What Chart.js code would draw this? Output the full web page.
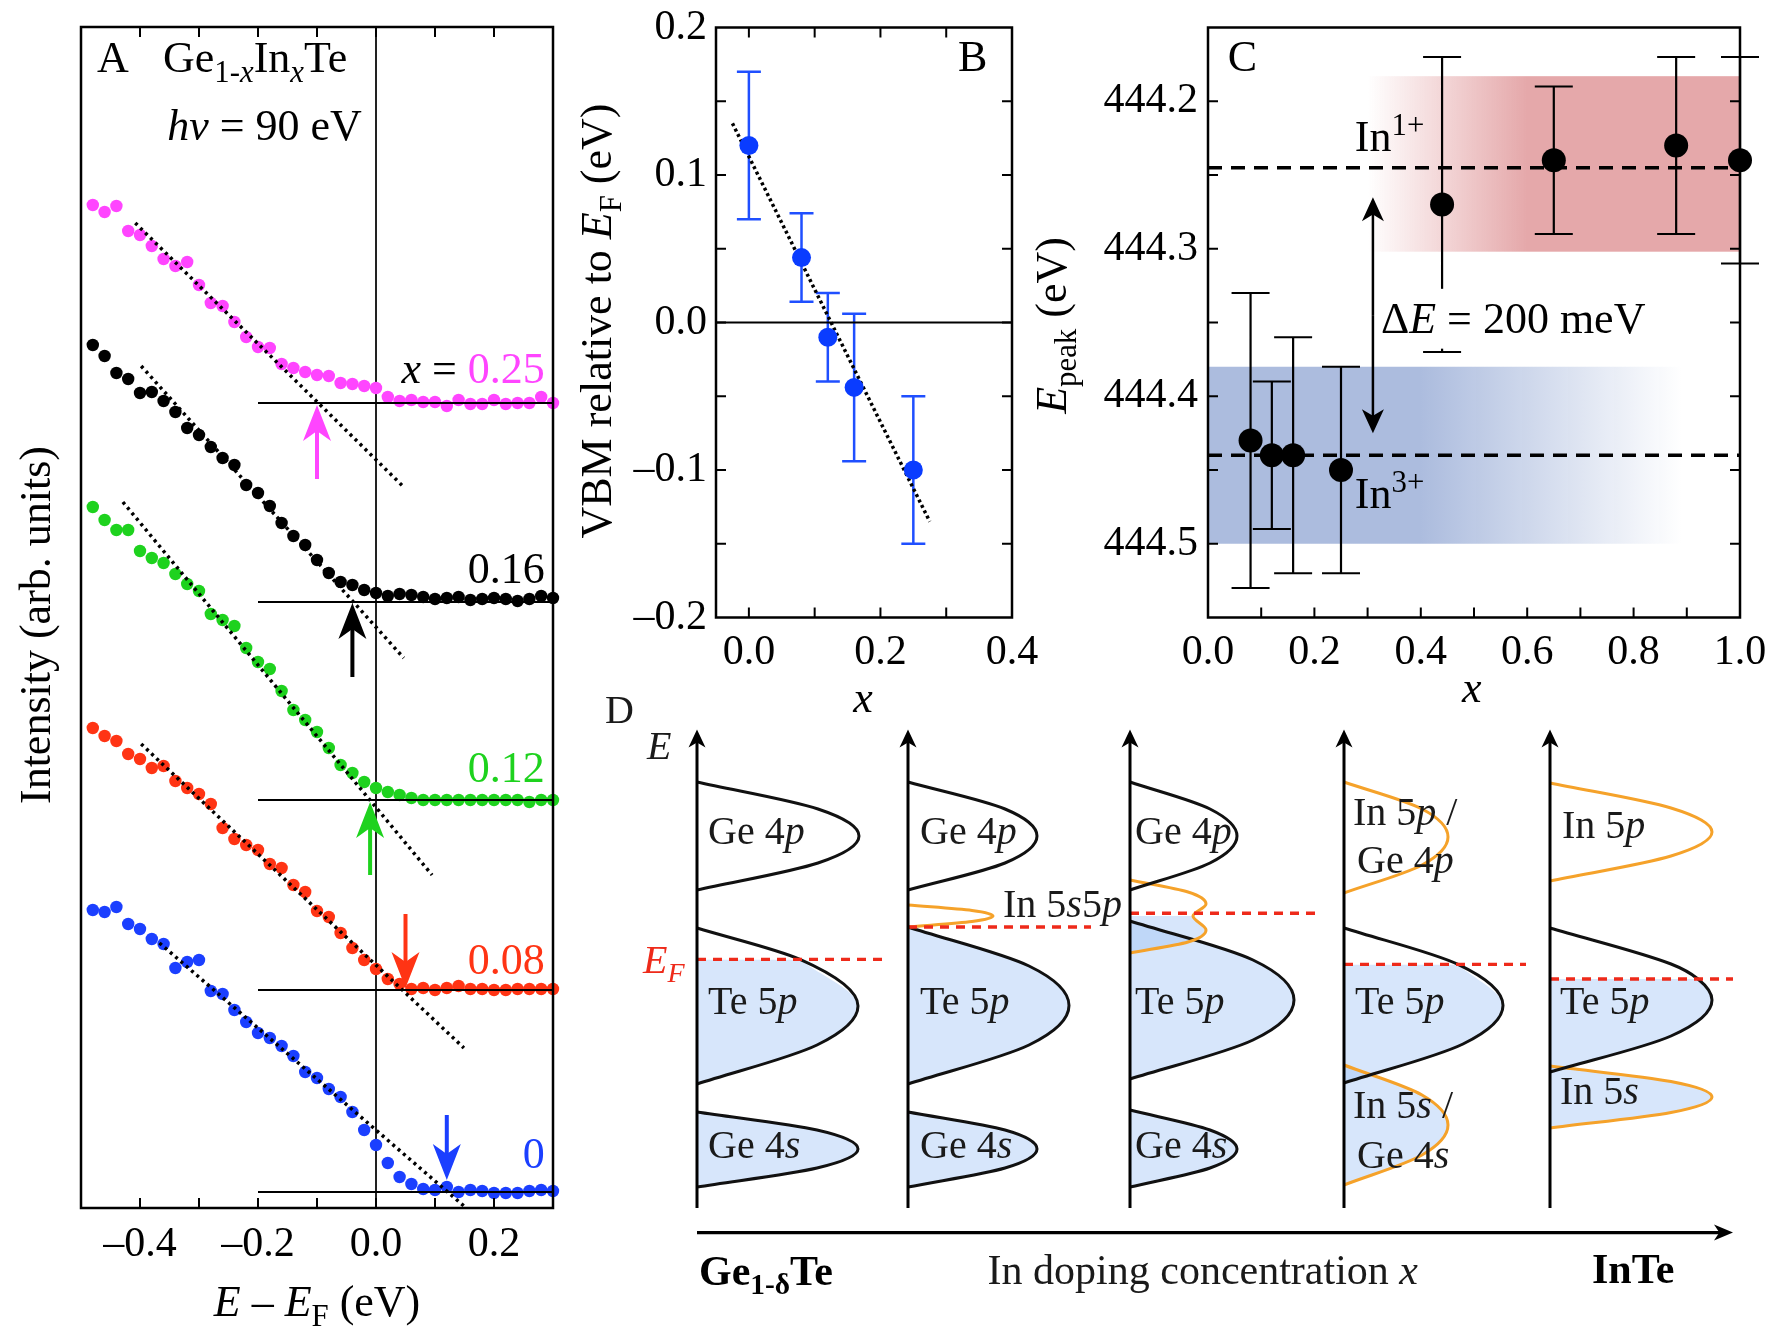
<!DOCTYPE html>
<html>
<head>
<meta charset="utf-8">
<title>Ge1-xInxTe</title>
<script src="https://cdn.jsdelivr.net/npm/chart.js@4.4.1/dist/chart.umd.min.js"></script>
<style>
  html, body { margin:0; padding:0; background:#fff; }
  #wrap { position:relative; width:1767px; height:1342px; overflow:hidden; }
  canvas { position:absolute; }
  .warm { position:absolute; left:-9999px; top:0; font-family:"Liberation Serif"; font-size:20px; }
</style>
</head>
<body>
<div id="wrap">
  <canvas id="chartA" width="600" height="1342" style="left:0;top:0"></canvas>
  <canvas id="chartB" width="500" height="760" style="left:560px;top:0"></canvas>
  <canvas id="chartC" width="767" height="760" style="left:1000px;top:0"></canvas>
  <canvas id="chartD" width="1187" height="662" style="left:580px;top:680px"></canvas>
</div>
<span class="warm">x</span><span class="warm" style="font-style:italic">x</span><span class="warm" style="font-weight:bold">x</span>
<script>
// ---- Panel A : spectra near E_F (intensity, arb. units, offset) ----
const energyA = [-0.48,-0.46,-0.44,-0.42,-0.40,-0.38,-0.36,-0.34,-0.32,-0.30,-0.28,-0.26,-0.24,-0.22,-0.20,-0.18,-0.16,-0.14,-0.12,-0.10,
                 -0.08,-0.06,-0.04,-0.02,0.00,0.02,0.04,0.06,0.08,0.10,0.12,0.14,0.16,0.18,0.20,0.22,0.24,0.26,0.28,0.30];
const intX025 = [100.3,99.6,100.2,97.7,97.3,96.2,94.9,94.2,94.6,92.3,90.5,90.2,88.6,87.1,86.1,86.0,84.4,84.0,83.6,83.3,
                 83.2,82.5,82.4,82.2,82.0,81.1,80.7,80.8,80.6,80.6,80.2,80.8,80.4,80.4,80.8,80.4,80.5,80.5,81.1,80.5];
const intX016 = [86.3,85.2,83.5,82.9,81.5,81.6,80.7,79.6,78.0,77.3,76.1,75.0,74.3,72.3,71.5,70.2,68.5,67.2,66.3,64.8,
                 63.5,62.6,62.3,61.8,61.5,61.2,61.4,61.3,61.1,60.9,61.0,61.1,60.8,60.9,61.0,60.9,60.7,60.9,61.2,61.0];
const intX012 = [70.1,68.8,67.8,67.8,65.7,65.0,64.5,63.4,62.4,61.7,59.4,58.8,58.2,56.0,54.6,53.9,51.7,49.8,48.8,47.6,
                 46.0,44.3,43.5,42.6,42.0,41.6,41.3,41.0,40.8,40.8,40.8,40.8,40.8,40.8,40.8,40.8,40.8,40.6,40.8,40.8];
const intX008 = [48.0,47.2,46.7,45.4,44.9,44.0,44.2,42.7,42.0,41.4,40.4,38.0,36.9,36.3,35.8,34.4,34.0,32.3,31.6,29.7,
                 29.1,27.5,26.0,24.8,23.9,22.9,22.4,21.9,22.0,21.8,22.0,22.2,21.9,21.9,21.8,21.8,21.9,21.9,21.9,21.9];
const intX000 = [29.8,29.6,30.1,28.4,27.9,26.9,26.4,24.0,24.6,24.8,21.7,21.4,19.8,18.6,17.5,17.0,16.2,15.2,13.6,13.0,
                 11.9,11.1,9.6,7.8,6.3,4.5,3.1,2.4,1.9,1.8,2.1,1.6,1.8,1.7,1.5,1.5,1.5,1.7,1.8,1.7];
const labelsA  = ['0.25','0.16','0.12','0.08','0'];
const colorsA  = ['#ff45ff','#000000','#1ed21e','#ff3414','#1b3fff'];
const baseY    = [80.5, 60.6, 40.8, 21.8, 1.6];       // horizontal background lines, from -0.2 to 0.3
const fitX0 = [-0.408,-0.398,-0.429,-0.398,-0.367], fitY0 = [98.5,84.2,70.6,46.4,26.5];
const fitX1 = [0.047,0.047,0.095,0.149,0.149],     fitY1 = [72.1,55.0,33.3,16.0,0.2];
const arrowX = [-0.10,-0.04,-0.01,0.05,0.12], arrowTail = [72.9,53.1,33.3,29.4,9.3], arrowTip = [80.3,60.5,40.6,22.0,2.8];
const labelY = [82.5, 62.5, 42.6, 23.4, 4.0];
const ticksA = [-0.4,-0.3,-0.2,-0.1,0,0.1,0.2];

// ---- Panel B : VBM vs x ----
const xB   = [0, 0.08, 0.12, 0.16, 0.25];
const vbmB = [0.12, 0.044, -0.01, -0.044, -0.10];
const errB = [0.05, 0.03, 0.03, 0.05, 0.05];
const fitB = [[-0.025, 0.135], [0.275, -0.135]];

// ---- Panel C : In 3d peak energy vs x ----
const xC    = [0.08, 0.12, 0.16, 0.25, 0.44, 0.65, 0.88, 1.0];
const peakC = [444.43, 444.44, 444.44, 444.45, 444.27, 444.24, 444.23, 444.24];
const errC  = [0.10, 0.05, 0.08, 0.07, 0.10, 0.05, 0.06, 0.07];
const levelIn1 = 444.245, levelIn3 = 444.44;
const bandRedX = [0.3, 0.6, 1.0],   bandRedY = [444.183, 444.302];
const bandBlueX = [0.0, 0.4, 0.89], bandBlueY = [444.38, 444.50];
const deltaArrowX = 0.31, deltaArrowY = [444.265, 444.425];

// ---- Panel D : schematic DOS lobes [dos, energy] ----
const colAxis = [57, 268, 490, 704, 910];
const axisBottom = 92, axisTop = 570.5, dopingY = 67.4, dopingEnd = 1093;
const efLevel = [340.6, 373, 386.7, 335.6, 321];
const efEnd   = [242, 451, 675, 886, 1093];
const ge4p_1 = [[57,410],[178,437],[219,464],[178,491],[57,518]];
const te5p_1 = [[57,216],[177,255],[218,294],[160,340.6],[57,372]];
const ge4s_1 = [[57,113],[177,132],[218,151],[177,170],[57,188]];
const ge4p_2 = [[268,410],[365,437],[397,464],[365,491],[268,518]];
const in5s5p_2 = [[268,373],[332,378.5],[353,384],[332,389.5],[268,395]];
const te5p_2 = [[268,216],[389,255],[429,294.5],[389,334],[268,373]];
const ge4s_2 = [[268,113],[365,132],[397,151],[365,170],[268,188]];
const ge4p_3 = [[490,410],[570,437],[597,464],[570,491],[490,518]];
const in5s5p_3 = [[490,347],[548,358],[566,370],[553,384],[566,396],[548,408],[490,420]];
const te5p_3 = [[490,221],[613,260],[654,300],[613,340],[490,379]];
const ge4s_3 = [[490,113],[570,132],[597,151],[570,170],[490,190]];
const in5p_4 = [[704,407],[782,435],[808,463],[782,491],[704,518]];
const te5p_4 = [[704,217],[823,256],[863,294.5],[818,335.6],[704,372]];
const in5s_4 = [[704,115],[782,145],[808,175],[782,205],[704,235]];
const in5p_5 = [[910,419],[1031,444],[1072,468],[1031,492],[910,517]];
const te5p_5 = [[910,228],[1031,264],[1072,300],[1058,321],[1031,336],[910,372]];
const in5s_5 = [[910,172],[1031,187.5],[1072,203],[1031,218.5],[910,234]];

const SERIF = '"Liberation Serif","Tinos","Times New Roman","DejaVu Serif",serif';
Chart.defaults.font.family = SERIF;
Chart.defaults.color = '#000';
const TICK = 10;

// rich text: parts = [{t, i, b, sub, sup, c}]
function fontStr(p, size){ const s = Math.round(((p.sub||p.sup) ? size*0.7 : size)*10)/10; return (p.i?'italic ':'')+(p.b?'bold ':'')+s+'px '+SERIF; }
function richText(ctx, parts, x, y, o){
  const size = o.size || 44;
  ctx.save();
  ctx.textAlign = 'left'; ctx.textBaseline = 'alphabetic';
  let w = 0;
  const ws = parts.map(p => { ctx.font = fontStr(p, size); const m = ctx.measureText(p.t).width; w += m; return m; });
  ctx.translate(x, y);
  if (o.rotate) ctx.rotate(o.rotate);
  let cx = o.align==='center' ? -w/2 : o.align==='right' ? -w : 0;
  if (o.bg){ ctx.fillStyle = o.bg; ctx.fillRect(cx-4, -size*1.0, w+8, size*1.36); }
  parts.forEach((p,k)=>{
    ctx.font = fontStr(p, size);
    ctx.fillStyle = p.c || o.color || '#000';
    ctx.fillText(p.t, cx, p.sub ? size*0.22 : p.sup ? -size*0.38 : 0);
    cx += ws[k];
  });
  ctx.restore();
}
function arrow(ctx, x0, y0, x1, y1, color, lw, hl, hw){
  const ang = Math.atan2(y1-y0, x1-x0);
  ctx.save(); ctx.strokeStyle = color; ctx.fillStyle = color; ctx.lineWidth = lw;
  ctx.beginPath(); ctx.moveTo(x0,y0); ctx.lineTo(x1-Math.cos(ang)*hl*0.6, y1-Math.sin(ang)*hl*0.6); ctx.stroke();
  ctx.translate(x1,y1); ctx.rotate(ang);
  ctx.beginPath(); ctx.moveTo(0,0); ctx.lineTo(-hl, hw/2); ctx.lineTo(-hl*0.72, 0); ctx.lineTo(-hl, -hw/2); ctx.closePath(); ctx.fill();
  ctx.restore();
}
const fmt = v => (v < -1e-9 ? '\u2013' : '') + Math.abs(v).toFixed(1);
const every = step => v => Math.abs(v/step - Math.round(v/step)) < 1e-6 ? fmt(v) : '';

function framePlugin(t){
  return { id:'frame', afterDraw(chart){
    const {ctx, chartArea:a, scales:{x,y}} = chart;
    ctx.save(); ctx.strokeStyle = '#000'; ctx.lineWidth = 2.5;
    ctx.strokeRect(a.left, a.top, a.right-a.left, a.bottom-a.top);
    ctx.lineWidth = 2; ctx.beginPath();
    (t.bottom||[]).forEach(v=>{ const p=x.getPixelForValue(v); ctx.moveTo(p,a.bottom); ctx.lineTo(p,a.bottom-TICK); });
    (t.top||[]).forEach(v=>{ const p=x.getPixelForValue(v); ctx.moveTo(p,a.top); ctx.lineTo(p,a.top+TICK); });
    (t.left||[]).forEach(v=>{ const p=y.getPixelForValue(v); ctx.moveTo(a.left,p); ctx.lineTo(a.left+TICK,p); });
    (t.right||[]).forEach(v=>{ const p=y.getPixelForValue(v); ctx.moveTo(a.right,p); ctx.lineTo(a.right-TICK,p); });
    ctx.stroke(); ctx.restore();
  }};
}
function xAxis(min, max, step, label, height, pad){
  return { type:'linear', min, max, grid:{display:false, drawTicks:false}, border:{display:false},
    ticks:{stepSize:step, autoSkip:false, maxRotation:0, padding:pad, font:{size:42}, callback:label},
    afterFit: s => { s.height = height; s.paddingLeft = 0; s.paddingRight = 0; } };
}
function yAxis(min, max, step, label, width, pad, reverse){
  return { type:'linear', min, max, reverse:!!reverse, grid:{display:false, drawTicks:false}, border:{display:false},
    ticks:{stepSize:step, autoSkip:false, padding:pad, font:{size:42}, callback:label},
    afterFit: s => { s.width = width; s.paddingTop = 0; s.paddingBottom = 0; } };
}
const common = { responsive:false, animation:false, devicePixelRatio:1,
  plugins:{ legend:{display:false}, tooltip:{enabled:false} } };

function errorBars(xs, ys, es, color, lw, cap){
  return { id:'err', beforeDatasetsDraw(chart){
    const {ctx, scales:{x,y}} = chart;
    ctx.save(); ctx.strokeStyle = color; ctx.lineWidth = lw; ctx.beginPath();
    xs.forEach((v,i)=>{
      const px = x.getPixelForValue(v), t = y.getPixelForValue(ys[i]+es[i]), b = y.getPixelForValue(ys[i]-es[i]);
      ctx.moveTo(px,t); ctx.lineTo(px,b);
      ctx.moveTo(px-cap,t); ctx.lineTo(px+cap,t); ctx.moveTo(px-cap,b); ctx.lineTo(px+cap,b);
    });
    ctx.stroke(); ctx.restore();
  }};
}

function drawAll(){
  // ================= Panel A =================
  const seriesA = [intX025, intX016, intX012, intX008, intX000];
  const dsA = [];
  seriesA.forEach((s,i)=>{
    dsA.push({ type:'scatter', data: energyA.map((e,k)=>({x:e, y:s[k]})), pointRadius:6.2,
      pointBackgroundColor:colorsA[i], pointBorderWidth:0, showLine:false, clip:false, order:2 });
    dsA.push({ type:'line', data:[{x:-0.2,y:baseY[i]},{x:0.3,y:baseY[i]}], borderColor:'#000', borderWidth:2.2, pointRadius:0, order:1 });
    dsA.push({ type:'line', data:[{x:fitX0[i],y:fitY0[i]},{x:fitX1[i],y:fitY1[i]}], borderColor:'#000', borderWidth:3.5,
      borderDash:[3,4], pointRadius:0, order:0 });
  });
  const annA = { id:'annA',
    beforeDatasetsDraw(chart){
      const {ctx, chartArea:a, scales:{x}} = chart; const p = x.getPixelForValue(0);
      ctx.save(); ctx.strokeStyle = '#222'; ctx.lineWidth = 2;
      ctx.beginPath(); ctx.moveTo(p,a.top); ctx.lineTo(p,a.bottom); ctx.stroke(); ctx.restore();
    },
    afterDatasetsDraw(chart){
      const {ctx, scales:{x,y}} = chart;
      arrowX.forEach((ax,i)=> arrow(ctx, x.getPixelForValue(ax), y.getPixelForValue(arrowTail[i]),
        x.getPixelForValue(ax), y.getPixelForValue(arrowTip[i]), colorsA[i], 4, 36, 28));
      labelsA.forEach((l,i)=>{
        const parts = i===0 ? [{t:'x',i:true},{t:' = '},{t:l,c:colorsA[0]}] : [{t:l,c:colorsA[i]}];
        richText(ctx, parts, x.getPixelForValue(0.286), y.getPixelForValue(labelY[i]), {align:'right'});
      });
      richText(ctx, [{t:'A'}], x.getPixelForValue(-0.473), y.getPixelForValue(113.6), {});
      richText(ctx, [{t:'Ge'},{t:'1-',sub:true},{t:'x',i:true,sub:true},{t:'In'},{t:'x',i:true,sub:true},{t:'Te'}],
        x.getPixelForValue(-0.361), y.getPixelForValue(113.6), {});
      richText(ctx, [{t:'h\u03BD',i:true},{t:' = 90 eV'}], x.getPixelForValue(-0.024), y.getPixelForValue(106.8), {align:'right'});
      richText(ctx, [{t:'E',i:true},{t:' \u2013 '},{t:'E',i:true},{t:'F',sub:true},{t:' (eV)'}],
        x.getPixelForValue(-0.1), y.getPixelForValue(-10.8), {align:'center'});
      richText(ctx, [{t:'Intensity (arb. units)'}], x.getPixelForValue(-0.5525), y.getPixelForValue(58.3), {align:'center', rotate:-Math.PI/2});
    }
  };
  new Chart(document.getElementById('chartA'), {
    type:'scatter', data:{datasets:dsA},
    options:{ ...common, layout:{padding:{left:81, top:27, right:47, bottom:0}},
      scales:{ x:xAxis(-0.5, 0.3, 0.1, every(0.2), 134, 12), y:{type:'linear', min:0, max:118.1, display:false} } },
    plugins:[annA, framePlugin({top:ticksA, bottom:ticksA})]
  });

  // ================= Panel B =================
  const annB = { id:'annB',
    beforeDatasetsDraw(chart){
      const {ctx, chartArea:a, scales:{y}} = chart; const p = y.getPixelForValue(0);
      ctx.save(); ctx.strokeStyle = '#000'; ctx.lineWidth = 2;
      ctx.beginPath(); ctx.moveTo(a.left,p); ctx.lineTo(a.right,p); ctx.stroke(); ctx.restore();
    },
    afterDraw(chart){
      const {ctx, scales:{x,y}} = chart;
      richText(ctx, [{t:'B'}], x.getPixelForValue(0.318), y.getPixelForValue(0.1705), {});
      richText(ctx, [{t:'x',i:true}], x.getPixelForValue(0.1735), y.getPixelForValue(-0.264), {align:'center'});
      richText(ctx, [{t:'VBM relative to '},{t:'E',i:true},{t:'F',sub:true},{t:' (eV)'}],
        x.getPixelForValue(-0.2096), y.getPixelForValue(0.001), {align:'center', rotate:-Math.PI/2});
    }
  };
  new Chart(document.getElementById('chartB'), {
    type:'scatter',
    data:{ datasets:[
      { data: xB.map((v,i)=>({x:v, y:vbmB[i]})), pointRadius:9.5, pointBackgroundColor:'#0a3cff', pointBorderWidth:0, clip:false, order:0 },
      { type:'line', data: fitB.map(p=>({x:p[0], y:p[1]})), borderColor:'#000', borderWidth:3.5, borderDash:[3,3], pointRadius:0, order:1 }
    ]},
    options:{ ...common, layout:{padding:{left:0, top:27.5, right:48, bottom:0}},
      scales:{ x:xAxis(-0.05, 0.4, 0.05, every(0.2), 142.5, 10), y:yAxis(-0.2, 0.2, 0.05, every(0.1), 156, 9) } },
    plugins:[errorBars(xB, vbmB, errB, '#1f4fff', 2.5, 12), annB,
      framePlugin({top:[0,0.1,0.2,0.3], bottom:[0,0.1,0.2,0.3], left:[-0.15,-0.1,-0.05,0,0.05,0.1,0.15], right:[-0.15,-0.1,-0.05,0,0.05,0.1,0.15]})]
  });

  // ================= Panel C =================
  const bandsC = { id:'bands', beforeDatasetsDraw(chart){
    const {ctx, scales:{x,y}} = chart;
    const band = (bx, by, rgb, fadeIn) => {
      const x0 = x.getPixelForValue(bx[0]), x2 = x.getPixelForValue(bx[2]);
      const g = ctx.createLinearGradient(x0, 0, x2, 0), f = (bx[1]-bx[0])/(bx[2]-bx[0]);
      if (fadeIn){ g.addColorStop(0,'rgba('+rgb+',0)'); g.addColorStop(f,'rgba('+rgb+',1)'); g.addColorStop(1,'rgba('+rgb+',1)'); }
      else { g.addColorStop(0,'rgba('+rgb+',1)'); g.addColorStop(f,'rgba('+rgb+',1)'); g.addColorStop(1,'rgba('+rgb+',0)'); }
      const y0 = y.getPixelForValue(by[0]), y1 = y.getPixelForValue(by[1]);
      ctx.save(); ctx.fillStyle = g; ctx.fillRect(x0, Math.min(y0,y1), x2-x0, Math.abs(y1-y0)); ctx.restore();
    };
    band(bandRedX, bandRedY, '229,168,170', true);
    band(bandBlueX, bandBlueY, '172,188,222', false);
  }};
  const annC = { id:'annC', afterDraw(chart){
    const {ctx, scales:{x,y}} = chart;
    const ax = x.getPixelForValue(deltaArrowX), ya = y.getPixelForValue(deltaArrowY[0]), yb = y.getPixelForValue(deltaArrowY[1]);
    arrow(ctx, ax, (ya+yb)/2, ax, ya, '#000', 2.5, 24, 22);
    arrow(ctx, ax, (ya+yb)/2, ax, yb, '#000', 2.5, 24, 22);
    richText(ctx, [{t:'\u0394'},{t:'E',i:true},{t:' = 200 meV'}], x.getPixelForValue(0.325), y.getPixelForValue(444.357), {bg:'#fff'});
    richText(ctx, [{t:'In'},{t:'1+',sup:true}], x.getPixelForValue(0.276), y.getPixelForValue(444.234), {});
    richText(ctx, [{t:'In'},{t:'3+',sup:true}], x.getPixelForValue(0.276), y.getPixelForValue(444.476), {});
    richText(ctx, [{t:'C'}], x.getPixelForValue(0.037), y.getPixelForValue(444.1795), {});
    richText(ctx, [{t:'x',i:true}], x.getPixelForValue(0.496), y.getPixelForValue(444.607), {align:'center'});
    richText(ctx, [{t:'E',i:true},{t:'peak',sub:true},{t:' (eV)'}], x.getPixelForValue(-0.267), y.getPixelForValue(444.352),
      {align:'center', rotate:-Math.PI/2});
  }};
  const dash = lvl => ({ type:'line', data:[{x:0,y:lvl},{x:1,y:lvl}], borderColor:'#000', borderWidth:3.5, borderDash:[14,9], pointRadius:0, order:1 });
  new Chart(document.getElementById('chartC'), {
    type:'scatter',
    data:{ datasets:[
      { data: xC.map((v,i)=>({x:v, y:peakC[i]})), pointRadius:12, pointBackgroundColor:'#000', pointBorderWidth:0, clip:false, order:0 },
      dash(levelIn1), dash(levelIn3)
    ]},
    options:{ ...common, layout:{padding:{left:0, top:27.5, right:27, bottom:0}},
      scales:{ x:xAxis(0, 1, 0.1, every(0.2), 142.5, 10), y:yAxis(444.15, 444.55, 0.05, every(0.1), 208, 10, true) } },
    plugins:[bandsC, errorBars(xC, peakC, errC, '#000', 2.2, 19), annC,
      framePlugin({bottom:[0.1,0.2,0.3,0.4,0.5,0.6,0.7,0.8,0.9], left:[444.2,444.25,444.3,444.35,444.4,444.45,444.5],
        right:[444.2,444.25,444.3,444.35,444.4,444.45,444.5]})]
  });

  // ================= Panel D =================
  const BLACK = '#111', ORANGE = '#f5a22a', EFRED = '#ee2a1a', FILL = 'rgba(160,195,245,0.42)';
  const pts = a => a.map(p=>({x:p[0], y:p[1]}));
  const outline = (a, c) => ({ data:pts(a), borderColor:c, borderWidth:3, fill:false, cubicInterpolationMode:'monotone', pointRadius:0 });
  const shade = (a, base) => ({ data:pts(a), borderColor:'transparent', borderWidth:0, backgroundColor:FILL, fill:{value:base},
    cubicInterpolationMode:'monotone', pointRadius:0 });
  const dsD = [
    ...colAxis.map((c,i)=>({ data:[{x:c,y:efLevel[i]},{x:efEnd[i],y:efLevel[i]}], borderColor:EFRED, borderWidth:3.4, borderDash:[9,7], pointRadius:0, fill:false })),
    outline(ge4p_1,BLACK), outline(te5p_1,BLACK), outline(ge4s_1,BLACK),
    outline(ge4p_2,BLACK), outline(in5s5p_2,ORANGE), outline(te5p_2,BLACK), outline(ge4s_2,BLACK),
    outline(ge4p_3,BLACK), outline(in5s5p_3,ORANGE), outline(te5p_3,BLACK), outline(ge4s_3,BLACK),
    outline(in5p_4,ORANGE), outline(te5p_4,BLACK), outline(in5s_4,ORANGE),
    outline(in5p_5,ORANGE), outline(te5p_5,BLACK), outline(in5s_5,ORANGE),
    shade(te5p_1.slice(0,4),colAxis[0]), shade(ge4s_1,colAxis[0]),
    shade(te5p_2,colAxis[1]), shade(ge4s_2,colAxis[1]),
    shade(in5s5p_3.slice(0,4),colAxis[2]), shade(te5p_3,colAxis[2]), shade(ge4s_3,colAxis[2]),
    shade(te5p_4.slice(0,4),colAxis[3]), shade(in5s_4,colAxis[3]),
    shade(te5p_5.slice(0,4),colAxis[4]), shade(in5s_5,colAxis[4])
  ];
  const p = t => [{t:t.slice(0,-1)},{t:t.slice(-1),i:true}];
  const labelsD = [
    [[{t:'D'}], -35, 577], [[{t:'E',i:true}], 7, 541], [[{t:'E',i:true,c:EFRED},{t:'F',i:true,sub:true,c:EFRED}], 3, 327],
    [p('Ge 4p'),68,456],[p('Te 5p'),68,286],[p('Ge 4s'),68,142],
    [p('Ge 4p'),280,456],[p('Te 5p'),280,286],[p('Ge 4s'),280,142],
    [[{t:'In 5'},{t:'s',i:true},{t:'5'},{t:'p',i:true}],363,383.4],
    [p('Ge 4p'),495,456],[p('Te 5p'),495,286],[p('Ge 4s'),495,142],
    [[...p('In 5p'),{t:' /'}],713,475],[p('Ge 4p'),717,427],[p('Te 5p'),715,286],[[...p('In 5s'),{t:' /'}],713,182],[p('Ge 4s'),717,132],
    [p('In 5p'),922,462],[p('Te 5p'),920,286],[p('In 5s'),920,196]
  ];
  const annD = { id:'annD', afterDatasetsDraw(chart){
    const {ctx, scales:{x,y}} = chart;
    colAxis.forEach(c => arrow(ctx, x.getPixelForValue(c), y.getPixelForValue(axisBottom), x.getPixelForValue(c), y.getPixelForValue(axisTop), '#000', 3, 18, 17));
    arrow(ctx, x.getPixelForValue(colAxis[0]), y.getPixelForValue(dopingY), x.getPixelForValue(dopingEnd), y.getPixelForValue(dopingY), '#000', 3.2, 19, 16);
    labelsD.forEach(([parts, lx, ly]) => richText(ctx, parts, x.getPixelForValue(lx), y.getPixelForValue(ly), {size:40, color:'#1a1a1a'}));
    richText(ctx, [{t:'Ge',b:true},{t:'1-\u03B4',b:true,sub:true},{t:'Te',b:true}], x.getPixelForValue(59), y.getPixelForValue(15), {size:42});
    richText(ctx, [{t:'In doping concentration '},{t:'x',i:true}], x.getPixelForValue(347.6), y.getPixelForValue(16), {size:42, color:'#1a1a1a'});
    richText(ctx, [{t:'InTe',b:true}], x.getPixelForValue(952), y.getPixelForValue(17.5), {size:42});
  }};
  new Chart(document.getElementById('chartD'), {
    type:'line', data:{datasets:dsD},
    options:{ ...common, indexAxis:'y', layout:{padding:{left:60, top:20, right:27, bottom:42}},
      plugins:{ ...common.plugins, filler:{drawTime:'beforeDatasetsDraw'} },
      scales:{ x:{type:'linear', min:0, max:1100, display:false}, y:{type:'linear', min:0, max:600, display:false} } },
    plugins:[annD]
  });
}

// wait for the serif faces before drawing on canvas
Promise.all(['44px', 'italic 44px', 'bold 44px'].map(f => document.fonts.load(f + ' "Liberation Serif"')))
  .catch(()=>{}).then(drawAll);
</script>
</body>
</html>
